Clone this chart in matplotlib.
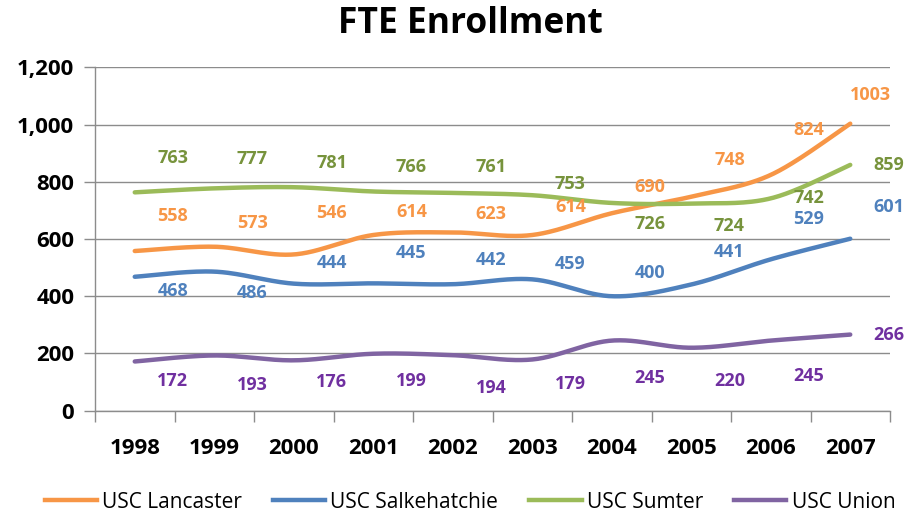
import numpy as np
import matplotlib
matplotlib.use("Agg")
import matplotlib.pyplot as plt
from matplotlib.ticker import FuncFormatter, FixedLocator
from matplotlib.lines import Line2D

years = ["1998", "1999", "2000", "2001", "2002", "2003", "2004", "2005", "2006", "2007"]
lancaster = [558, 573, 546, 614, 623, 614, 690, 748, 824, 1003]
salkehatchie = [468, 486, 444, 445, 442, 459, 400, 441, 529, 601]
sumter = [763, 777, 781, 766, 761, 753, 726, 724, 742, 859]
union = [172, 193, 176, 199, 194, 179, 245, 220, 245, 266]
series_names = ["USC Lancaster", "USC Salkehatchie", "USC Sumter", "USC Union"]

# label layout (offsets in value units from the point, x offset in categories)
off_lan = [122, 83, 145, 80, 64, 98, 92, 128, 157, 100]
off_sal = [-50, -75, 72, 106, 84, 54, 81, 113, 141, 111]
off_sum = [120, 103, 85, 86, 91, 39, -74, -79, 1, 0]
off_uni = [-68, -103, -76, -95, -115, -86, -131, -116, -124, -1]
xoff_lan = [0.48] * 9 + [0.25]
xoff_std = [0.48] * 9 + [0.48]

line_colors = ["#F79646", "#4F81BD", "#9BBB59", "#8064A2"]
label_colors = ["#F79646", "#4F81BD", "#77933C", "#7030A0"]

FONT = "Open Sans"


def smooth(xs, ys, n=30):
    xs = np.asarray(xs, float)
    ys = np.asarray(ys, float)
    P = np.column_stack([xs, ys])
    out = []
    for i in range(len(P) - 1):
        p0 = P[i - 1] if i > 0 else P[i]
        p1 = P[i]
        p2 = P[i + 1]
        p3 = P[i + 2] if i + 2 < len(P) else P[i + 1]
        c1 = p1 + (p2 - p0) / 6.0
        c2 = p2 - (p3 - p1) / 6.0
        t = np.linspace(0, 1, n)[:, None]
        seg = ((1 - t) ** 3) * p1 + 3 * ((1 - t) ** 2) * t * c1 + 3 * (1 - t) * t ** 2 * c2 + t ** 3 * p2
        out.append(seg if i == 0 else seg[1:])
    pts = np.vstack(out)
    return pts[:, 0], pts[:, 1]


fig = plt.figure(figsize=(9.09, 5.15), dpi=100)
ax = fig.add_axes([95 / 909, 1 - 410.7 / 515, 795 / 909, 343.4 / 515])

x = np.arange(len(years))
all_series = [lancaster, salkehatchie, sumter, union]
all_offs = [off_lan, off_sal, off_sum, off_uni]
all_xoffs = [xoff_lan, xoff_std, xoff_std, xoff_std]

for vals, lc, tc, offs, xoffs in zip(all_series, line_colors, label_colors, all_offs, all_xoffs):
    sx, sy = smooth(x, vals)
    ax.plot(sx, sy, color=lc, lw=3.2, solid_capstyle="round", zorder=3)
    for xi, v, o, xo in zip(x, vals, offs, xoffs):
        ax.text(xi + xo, v + o, str(v), color=tc, fontsize=13, fontweight="bold",
                family=FONT, ha="center", va="center", zorder=4)

ax.set_xlim(-0.5, 9.5)
ax.set_ylim(0, 1200)
ax.set_yticks(np.arange(0, 1201, 200))
ax.yaxis.set_major_formatter(FuncFormatter(lambda v, p: f"{int(v):,}"))
ax.grid(axis="y", color="#8c8c8c", lw=1)
ax.set_axisbelow(True)

ax.set_xticks(x)
ax.set_xticklabels(years)
ax.xaxis.set_minor_locator(FixedLocator(np.arange(-0.5, 10, 1)))
ax.tick_params(axis="x", which="major", length=0, pad=20)
ax.tick_params(axis="x", which="minor", length=8, color="#8c8c8c", width=1)
ax.tick_params(axis="y", length=8, color="#8c8c8c", width=1, pad=7)

for lab in ax.get_xticklabels() + ax.get_yticklabels():
    lab.set_fontfamily(FONT)
    lab.set_fontweight("bold")
    lab.set_fontsize(16)
    lab.set_color("black")

for s in ["top", "right"]:
    ax.spines[s].set_visible(False)
for s in ["left", "bottom"]:
    ax.spines[s].set_color("#8c8c8c")
    ax.spines[s].set_linewidth(1)

fig.text(470 / 909, 1 - 24 / 515, "FTE Enrollment", ha="center", va="center",
         fontsize=25.5, fontweight="bold", family=FONT)

handles = [Line2D([0], [0], color=c, lw=3.2) for c in line_colors]
fig.legend(handles, series_names, loc="center", bbox_to_anchor=(470 / 909, 1 - 502 / 515),
           ncol=4, frameon=False, prop={"family": FONT, "size": 15},
           handlelength=2.5, handletextpad=0.25, columnspacing=1.5)

fig.savefig("out.png", dpi=100)
